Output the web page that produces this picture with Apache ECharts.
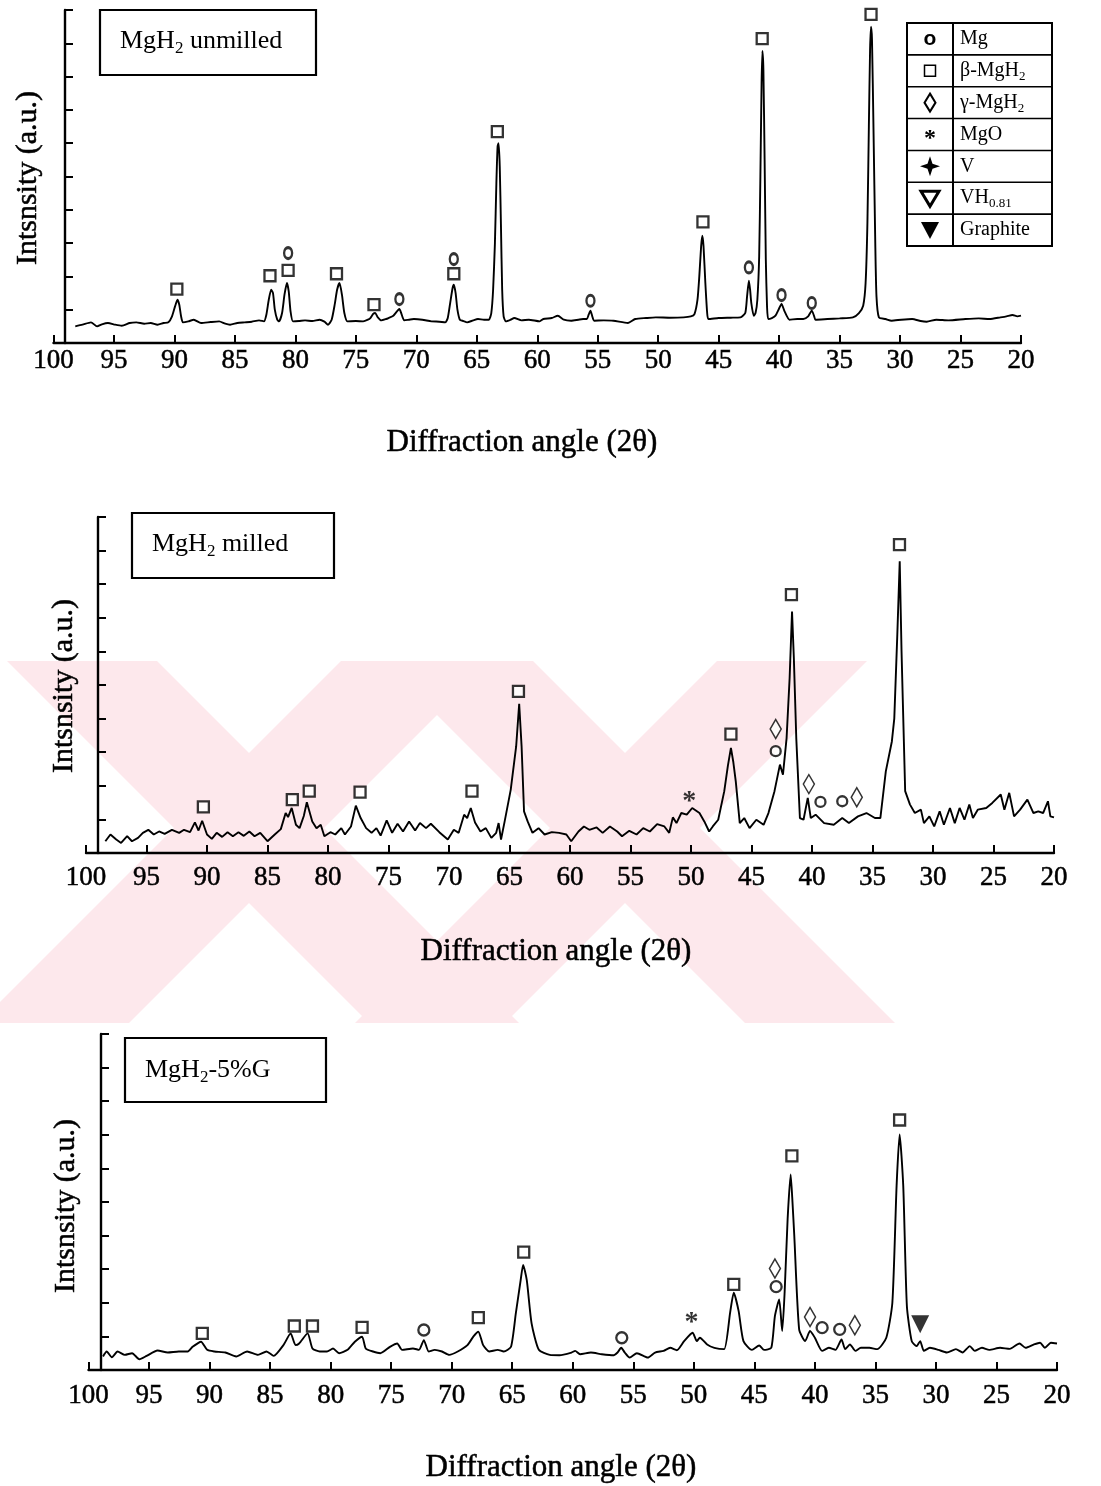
<!DOCTYPE html>
<html>
<head>
<meta charset="utf-8">
<title>XRD patterns of MgH2</title>
<script src="https://cdn.jsdelivr.net/npm/echarts@6/dist/echarts.min.js"></script>
<style>
html, body { margin: 0; padding: 0; background: #fff; }
#main { width: 1101px; height: 1486px; }
</style>
</head>
<body>
<div id="main"></div>
<script>
// 2-theta range of every panel (axis runs from 100 on the left to 20 on the right)
var angleMin = 20;
var angleMax = 100;
var angleStep = 5;

// ---- panel 1 : MgH2 unmilled ---- [2theta, intensity a.u.]
var unmilledCurve = [
  [98.2,0.5],[97.6,0.55],[96.9,0.62],[96.4,0.5],[96.0,0.56],[95.5,0.6],[94.9,0.55],[94.35,0.52],
  [93.7,0.6],[93.15,0.62],[92.5,0.58],[91.96,0.6],[91.4,0.55],[90.9,0.6],[90.5,0.62],[90.2,0.8],
  [89.95,1.1],[89.75,1.3],[89.6,1.15],[89.45,0.8],[89.3,0.62],[88.85,0.65],[88.4,0.7],[87.8,0.6],
  [87.0,0.63],[86.3,0.65],[85.8,0.58],[85.4,0.55],[84.8,0.6],[84.2,0.62],[83.6,0.64],[83.0,0.68],
  [82.6,0.65],[82.4,0.85],[82.2,1.3],[82.0,1.6],[81.85,1.5],[81.7,1.0],[81.5,0.7],[81.35,0.65],
  [81.1,0.9],[80.9,1.45],[80.7,1.8],[80.55,1.55],[80.4,0.95],[80.2,0.65],[79.7,0.66],[79.2,0.68],
  [78.6,0.66],[78.0,0.7],[77.6,0.64],[77.3,0.55],[77.0,0.7],[76.75,1.15],[76.55,1.6],[76.35,1.8],
  [76.15,1.45],[75.95,0.9],[75.7,0.65],[75.0,0.66],[74.4,0.65],[74.0,0.7],[73.8,0.75],[73.55,0.88],
  [73.4,0.9],[73.2,0.78],[72.9,0.68],[72.5,0.72],[72.3,0.75],[71.9,0.82],[71.6,0.95],[71.4,1.02],
  [71.25,0.9],[71.0,0.68],[70.6,0.7],[70.2,0.72],[69.5,0.7],[68.75,0.65],[68.1,0.64],[67.6,0.62],
  [67.4,0.75],[67.2,1.2],[67.0,1.65],[66.9,1.75],[66.75,1.5],[66.6,1.0],[66.4,0.7],[66.1,0.66],
  [65.8,0.62],[65.3,0.68],[64.9,0.72],[64.4,0.7],[64.0,0.7],[63.8,0.9],[63.65,1.6],[63.5,3.0],
  [63.38,4.8],[63.28,5.9],[63.2,6.0],[63.1,5.3],[63.0,3.5],[62.9,1.6],[62.78,0.8],[62.6,0.65],
  [62.2,0.7],[61.9,0.75],[61.3,0.68],[60.7,0.7],[59.8,0.65],[59.5,0.72],[58.8,0.75],[58.3,0.82],
  [57.8,0.7],[57.2,0.67],[56.6,0.7],[56.2,0.72],[55.9,0.72],[55.75,0.85],[55.6,0.97],[55.45,0.8],
  [55.3,0.67],[54.5,0.68],[53.7,0.67],[52.5,0.6],[51.9,0.72],[51.0,0.75],[50.2,0.77],[49.0,0.76],
  [47.9,0.77],[47.3,0.8],[47.0,0.87],[46.75,1.3],[46.6,2.0],[46.45,2.9],[46.35,3.22],[46.25,2.9],
  [46.1,1.8],[45.95,0.9],[45.85,0.72],[45.0,0.75],[44.0,0.76],[43.2,0.77],[42.8,0.9],[42.65,1.4],
  [42.5,1.87],[42.4,1.6],[42.3,1.2],[42.1,0.82],[41.95,0.9],[41.8,1.3],[41.65,2.6],[41.55,5.0],
  [41.45,7.8],[41.38,8.77],[41.3,8.2],[41.2,5.5],[41.1,2.5],[41.0,1.1],[40.9,0.72],[40.6,0.75],
  [40.3,0.82],[40.05,1.0],[39.8,1.17],[39.55,0.95],[39.15,0.7],[38.5,0.72],[38.0,0.72],[37.6,0.8],
  [37.3,0.97],[37.1,0.8],[37.0,0.7],[36.0,0.72],[35.0,0.74],[33.9,0.77],[33.4,0.9],[33.05,1.12],
  [32.85,1.8],[32.7,3.6],[32.58,6.5],[32.48,8.8],[32.4,9.5],[32.32,9.1],[32.2,6.5],[32.05,3.0],
  [31.95,1.4],[31.75,0.77],[31.2,0.72],[30.7,0.67],[29.9,0.7],[29.0,0.72],[28.3,0.66],[27.8,0.64],
  [27.0,0.7],[26.0,0.68],[24.6,0.72],[23.5,0.74],[22.6,0.72],[21.7,0.77],[21.2,0.8],[20.7,0.84],
  [20.3,0.8],[20.0,0.82]
];
var unmilledBeta = [[89.8,1.62],[82.1,2.02],[80.6,2.18],[76.6,2.08],[73.5,1.15],[66.9,2.08],[63.3,6.35],[46.3,3.64],[41.4,9.14],[32.4,9.87]];
var unmilledMg = [[80.6,2.7],[71.4,1.32],[66.9,2.52],[55.6,1.27],[42.5,2.27],[39.8,1.44],[37.3,1.2]];

// ---- panel 2 : MgH2 milled ----
var milledCurve = [
  [98.4,0.35],[97.98,0.55],[97.5,0.4],[97.1,0.3],[96.6,0.5],[96.2,0.35],[95.7,0.45],[95.3,0.6],
  [94.85,0.69],[94.4,0.55],[93.96,0.64],[93.5,0.57],[92.9,0.69],[92.3,0.6],[91.9,0.69],[91.4,0.62],
  [91.0,0.91],[90.7,0.67],[90.4,0.96],[90.0,0.55],[89.6,0.42],[89.2,0.6],[88.75,0.48],[88.3,0.62],
  [87.86,0.5],[87.4,0.62],[86.96,0.51],[86.5,0.64],[86.07,0.5],[85.6,0.6],[85.0,0.35],[84.4,0.55],
  [83.9,0.71],[83.5,1.19],[83.3,1.07],[83.0,1.34],[82.65,0.84],[82.35,0.74],[82.0,1.1],[81.75,1.51],
  [81.3,0.94],[80.95,0.74],[80.6,0.84],[80.3,0.5],[79.8,0.62],[79.4,0.55],[78.9,0.74],[78.6,0.55],
  [78.1,0.79],[77.7,1.41],[77.3,1.04],[76.85,0.74],[76.4,0.6],[76.0,0.74],[75.65,0.52],[75.15,0.97],
  [74.7,0.6],[74.25,0.87],[73.8,0.64],[73.3,0.94],[72.8,0.67],[72.4,0.89],[71.9,0.74],[71.5,0.87],
  [70.8,0.62],[70.1,0.4],[69.6,0.69],[69.2,0.6],[68.75,1.14],[68.5,1.04],[68.2,1.34],[67.85,0.91],
  [67.4,0.64],[66.96,0.74],[66.5,0.45],[66.1,0.6],[65.9,0.89],[65.7,0.4],[65.4,0.94],[64.9,1.88],
  [64.45,3.17],[64.2,4.44],[64.0,3.17],[63.8,1.24],[63.5,0.94],[63.1,0.6],[62.6,0.74],[62.1,0.55],
  [61.5,0.62],[60.9,0.6],[60.3,0.55],[59.9,0.35],[59.3,0.64],[58.85,0.79],[58.4,0.69],[57.8,0.76],
  [57.3,0.6],[56.7,0.79],[56.1,0.64],[55.7,0.5],[55.1,0.66],[54.5,0.55],[53.95,0.74],[53.4,0.64],
  [52.8,0.86],[52.2,0.79],[51.8,0.6],[51.5,1.06],[51.2,0.89],[50.8,1.19],[50.35,1.14],[49.9,1.34],
  [49.3,1.19],[48.9,0.94],[48.5,0.64],[48.2,0.79],[47.75,0.99],[47.25,1.84],[46.95,2.6],[46.7,3.13],
  [46.5,2.7],[46.3,2.13],[45.97,0.89],[45.6,1.04],[45.16,0.74],[44.6,0.99],[44.0,0.84],[43.6,1.19],
  [43.1,1.84],[42.65,2.63],[42.4,2.33],[42.1,3.42],[41.85,5.2],[41.65,7.19],[41.5,5.8],[41.3,3.42],
  [41.0,1.04],[40.7,0.99],[40.35,1.64],[40.1,1.04],[39.7,1.14],[39.0,0.89],[38.2,0.84],[37.5,1.04],
  [36.95,0.89],[36.2,1.09],[35.5,1.19],[34.8,1.04],[34.35,1.04],[33.9,2.43],[33.4,3.32],[33.2,4.0],
  [32.95,6.5],[32.75,8.68],[32.6,6.0],[32.5,4.6],[32.3,1.84],[31.9,1.44],[31.5,1.19],[31.0,1.29],
  [30.75,0.89],[30.3,1.09],[29.9,0.79],[29.45,1.24],[29.1,0.84],[28.6,1.34],[28.2,0.89],[27.8,1.34],
  [27.4,0.99],[27.0,1.44],[26.7,1.04],[26.3,1.29],[25.6,1.34],[25.1,1.49],[24.4,1.74],[24.1,1.29],
  [23.7,1.79],[23.3,1.09],[22.8,1.29],[22.2,1.59],[21.7,1.19],[21.3,1.24],[20.9,1.19],[20.5,1.54],
  [20.3,1.09],[20.0,1.06]
];
var milledBeta = [[90.3,1.37],[82.95,1.59],[81.55,1.84],[77.35,1.81],[68.1,1.84],[64.26,4.81],[46.7,3.54],[41.7,7.69],[32.77,9.18]];
var milledMg = [[43.0,3.03],[39.3,1.52],[37.5,1.54]];
var milledGamma = [[43.0,3.69],[40.26,2.05],[36.3,1.66]];
var milledMgO = [[50.15,1.74]];

// ---- panel 3 : MgH2-5%G ----
var graphiteCurve = [
  [98.8,0.4],[98.5,0.55],[98.07,0.38],[97.6,0.55],[97.0,0.45],[96.4,0.5],[95.8,0.32],[95.2,0.42],
  [94.3,0.58],[93.45,0.52],[92.55,0.55],[91.8,0.55],[91.4,0.69],[90.95,0.8],[90.7,0.84],[90.2,0.6],
  [89.6,0.55],[88.7,0.52],[87.8,0.4],[86.9,0.55],[86.0,0.45],[85.3,0.55],[84.7,0.42],[83.9,0.74],
  [83.3,1.09],[82.9,0.74],[82.6,0.79],[81.9,1.09],[81.5,0.64],[80.9,0.55],[80.3,0.55],[79.8,0.64],
  [79.3,0.5],[78.6,0.6],[78.0,0.84],[77.4,0.99],[77.1,0.64],[76.5,0.55],[75.9,0.5],[75.1,0.69],
  [74.5,0.79],[74.1,0.6],[73.2,0.64],[72.7,0.6],[72.3,0.89],[71.9,0.55],[71.4,0.6],[70.8,0.55],
  [70.2,0.45],[69.5,0.55],[68.7,0.74],[68.2,1.0],[67.8,1.14],[67.4,0.74],[66.9,0.55],[66.2,0.6],
  [65.7,0.55],[65.1,0.69],[64.7,1.69],[64.3,2.68],[64.1,3.13],[63.8,2.68],[63.4,1.39],[62.8,0.6],
  [61.9,0.45],[61.1,0.44],[60.1,0.52],[59.8,0.57],[59.4,0.47],[58.5,0.52],[57.6,0.47],[56.6,0.44],
  [56.3,0.52],[56.0,0.66],[55.7,0.52],[55.3,0.37],[54.7,0.5],[53.8,0.37],[53.2,0.52],[52.5,0.57],
  [51.95,0.66],[51.4,0.59],[50.8,0.86],[50.1,1.11],[49.75,0.86],[49.5,0.96],[48.9,0.76],[48.3,0.66],
  [47.5,0.62],[47.0,1.71],[46.7,2.3],[46.3,1.76],[45.9,0.86],[45.2,0.6],[44.6,0.73],[44.2,0.6],
  [43.6,0.66],[43.3,1.61],[42.95,2.1],[42.7,1.16],[42.5,2.3],[42.25,4.5],[42.0,5.82],[41.85,5.0],
  [41.7,3.99],[41.3,1.21],[40.8,0.86],[40.4,1.16],[40.0,0.96],[39.4,0.57],[38.85,0.66],[38.3,0.6],
  [37.8,0.91],[37.5,0.62],[37.1,0.76],[36.65,0.57],[36.2,0.66],[35.5,0.66],[34.85,0.62],[34.1,0.96],
  [33.6,2.0],[33.25,5.48],[33.0,7.01],[32.7,5.48],[32.4,1.9],[32.0,0.86],[31.6,0.71],[31.3,0.86],
  [31.0,0.57],[30.5,0.66],[29.8,0.6],[29.1,0.52],[28.35,0.62],[27.8,0.52],[27.2,0.71],[26.8,0.57],
  [26.2,0.66],[25.6,0.6],[24.7,0.66],[23.9,0.63],[23.1,0.79],[22.6,0.66],[21.9,0.76],[21.4,0.81],
  [21.0,0.66],[20.5,0.81],[20.0,0.79]
];
var graphiteBeta = [[90.6,1.09],[83.0,1.31],[81.5,1.31],[77.4,1.27],[67.8,1.56],[64.05,3.51],[46.7,2.55],[41.9,6.37],[33.0,7.44]];
var graphiteMg = [[72.3,1.19],[55.95,0.96],[43.2,2.48],[39.4,1.26],[37.95,1.21]];
var graphiteGamma = [[43.3,3.02],[40.4,1.58],[36.7,1.33]];
var graphiteMgO = [[50.2,1.61]];
var graphiteC = [[31.3,1.36]];

var panelTitles = ['unmilled', 'milled', '-5%G'];
var legendNames = ['Mg', 'β-MgH2', 'γ-MgH2', 'MgO', 'V', 'VH0.81', 'Graphite'];

var FONT = 'Liberation Serif';
var chart = echarts.init(document.getElementById('main'));

function xAxisFor(i, margin) {
  return {
    type: 'value', gridIndex: i, min: angleMin, max: angleMax, interval: angleStep, inverse: true,
    axisLine: { show: true, lineStyle: { color: '#000', width: 2.4 } },
    axisTick: { show: true, inside: true, length: 8, lineStyle: { color: '#000', width: 2 } },
    axisLabel: {
      show: true, margin: margin, color: '#000', fontFamily: FONT, fontSize: 27,
      textBorderColor: '#000', textBorderWidth: 0.5, showMinLabel: true, showMaxLabel: true
    },
    splitLine: { show: false }
  };
}
function yAxisFor(i, off) {
  return {
    type: 'value', gridIndex: i, min: 0, max: 10, interval: 1, offset: off,
    axisLine: { show: true, lineStyle: { color: '#000', width: 2.4 } },
    axisTick: { show: true, inside: true, length: 8, lineStyle: { color: '#000', width: 2 } },
    axisLabel: { show: false },
    splitLine: { show: false }
  };
}
function curve(data, i) {
  return {
    type: 'line', xAxisIndex: i, yAxisIndex: i, data: data, showSymbol: false, symbol: 'none',
    smooth: i === 1 ? false : 0.2, silent: true, z: 2,
    lineStyle: { color: '#000', width: 1.9 }
  };
}
function marks(data, i, symbol, size, style, extra) {
  var s = {
    type: 'scatter', xAxisIndex: i, yAxisIndex: i, data: data, symbol: symbol, symbolSize: size,
    silent: true, z: 4, itemStyle: style
  };
  for (var k in extra) s[k] = extra[k];
  return s;
}
var open = { color: '#fff', borderColor: '#000', borderWidth: 2.3 };
var openBold = { color: '#fff', borderColor: '#000', borderWidth: 2.7 };
var openThin = { color: '#fff', borderColor: '#000', borderWidth: 1.6 };
var star = function (i, data) {
  return marks(data, i, 'circle', 0, { color: 'transparent' }, {
    label: { show: true, position: 'inside', formatter: '*', color: '#000', fontFamily: FONT, fontWeight: 'bold', fontSize: 28, offset: [0, 7] }
  });
};

// faint watermark stripes behind the middle panel
var watermark = [
  [[7,661],[157,661],[519,1023],[369,1023]],
  [[341,661],[491,661],[129,1023],[-21,1023]],
  [[383,661],[533,661],[895,1023],[745,1023]],
  [[717,661],[867,661],[505,1023],[355,1023]]
];

var graphics = [];
watermark.forEach(function (p) {
  graphics.push({ type: 'polygon', z: -10, silent: true, shape: { points: p }, style: { fill: '#fde8ec' } });
});

function richTitle(x, y, suffix) {
  return {
    type: 'text', x: x, y: y, z: 10,
    style: {
      text: '{a|MgH}{s|2}{a|' + suffix + '}',
      textVerticalAlign: 'middle', verticalAlign: 'middle', textAlign: 'left', align: 'left',
      rich: {
        a: { fontFamily: FONT, fontSize: 26, lineHeight: 32, fill: '#000', color: '#000' },
        s: { fontFamily: FONT, fontSize: 17, lineHeight: 18, verticalAlign: 'bottom', fill: '#000', color: '#000' }
      }
    }
  };
}
function box(x, y, w, h) {
  return { type: 'rect', z: 10, shape: { x: x, y: y, width: w, height: h }, style: { fill: '#fff', stroke: '#000', lineWidth: 2.2 } };
}
function label(x, y, text, size, rot) {
  return {
    type: 'text', x: x, y: y, rotation: rot || 0, z: 10,
    style: {
      text: text, fontFamily: FONT, fontSize: size, fill: '#000', stroke: '#000', lineWidth: 0.5,
      textAlign: 'center', align: 'center', textVerticalAlign: 'middle', verticalAlign: 'middle'
    }
  };
}

graphics.push(box(100, 10, 216, 65), richTitle(120, 41, ' ' + panelTitles[0]));
graphics.push(box(132, 513, 202, 65), richTitle(152, 544, ' ' + panelTitles[1]));
graphics.push(box(125, 1038, 201, 64), richTitle(145, 1070, panelTitles[2]));

graphics.push(label(522, 443, 'Diffraction angle (2θ)', 31));
graphics.push(label(556, 952, 'Diffraction angle (2θ)', 31));
graphics.push(label(561, 1468, 'Diffraction angle (2θ)', 31));
graphics.push(label(28, 178, 'Intsnsity (a.u.)', 30, Math.PI / 2));
graphics.push(label(64, 686, 'Intsnsity (a.u.)', 30, Math.PI / 2));
graphics.push(label(66, 1206, 'Intsnsity (a.u.)', 30, Math.PI / 2));

// phase key table in the first panel
var tx = 907, ty = 23, tw = 145, th = 223, div = 953, rowH = th / legendNames.length;
graphics.push({ type: 'rect', z: 10, shape: { x: tx, y: ty, width: tw, height: th }, style: { fill: '#fff', stroke: '#000', lineWidth: 2 } });
graphics.push({ type: 'line', z: 11, shape: { x1: div, y1: ty, x2: div, y2: ty + th }, style: { stroke: '#000', lineWidth: 2 } });
legendNames.forEach(function (name, k) {
  var cy = ty + rowH * (k + 0.5);
  if (k > 0) graphics.push({ type: 'line', z: 11, shape: { x1: tx, y1: ty + rowH * k, x2: tx + tw, y2: ty + rowH * k }, style: { stroke: '#000', lineWidth: 1.6 } });
  var parts = name.match(/^(.*?H)(2|0\.81)$/);
  var txt = parts ? '{a|' + parts[1] + '}{s|' + parts[2] + '}' : '{a|' + name + '}';
  graphics.push({
    type: 'text', x: 960, y: cy, z: 12,
    style: {
      text: txt, textVerticalAlign: 'middle', verticalAlign: 'middle', textAlign: 'left', align: 'left',
      rich: {
        a: { fontFamily: FONT, fontSize: 20, lineHeight: 24, fill: '#000', color: '#000' },
        s: { fontFamily: FONT, fontSize: 13, lineHeight: 14, verticalAlign: 'bottom', fill: '#000', color: '#000' }
      }
    }
  });
});
var sx = 930;
function rowY(k) { return ty + rowH * (k + 0.5); }
graphics.push({ type: 'text', x: sx, y: rowY(0), z: 12, style: { text: 'o', fontFamily: 'Liberation Sans', fontWeight: 'bold', fontSize: 21, fill: '#000', textAlign: 'center', align: 'center', textVerticalAlign: 'middle', verticalAlign: 'middle' } });
graphics.push({ type: 'rect', z: 12, shape: { x: sx - 5.5, y: rowY(1) - 5.5, width: 11, height: 11 }, style: { fill: '#fff', stroke: '#000', lineWidth: 1.5 } });
graphics.push({ type: 'polygon', z: 12, shape: { points: [[sx, rowY(2) - 9], [sx + 5.5, rowY(2)], [sx, rowY(2) + 9], [sx - 5.5, rowY(2)]] }, style: { fill: '#fff', stroke: '#000', lineWidth: 2 } });
graphics.push({ type: 'text', x: sx, y: rowY(3) + 4, z: 12, style: { text: '*', fontFamily: FONT, fontWeight: 'bold', fontSize: 24, fill: '#000', textAlign: 'center', align: 'center', textVerticalAlign: 'middle', verticalAlign: 'middle' } });
var c4 = rowY(4);
graphics.push({ type: 'polygon', z: 12, shape: { points: [[sx, c4 - 10], [sx + 2.5, c4 - 2.5], [sx + 10, c4], [sx + 2.5, c4 + 2.5], [sx, c4 + 10], [sx - 2.5, c4 + 2.5], [sx - 10, c4], [sx - 2.5, c4 - 2.5]] }, style: { fill: '#000' } });
var c5 = rowY(5);
graphics.push({ type: 'polygon', z: 12, shape: { points: [[sx - 9, c5 - 7], [sx + 9, c5 - 7], [sx, c5 + 8]] }, style: { fill: '#fff', stroke: '#000', lineWidth: 3 } });
var c6 = rowY(6);
graphics.push({ type: 'polygon', z: 12, shape: { points: [[sx - 9, c6 - 8], [sx + 9, c6 - 8], [sx, c6 + 9]] }, style: { fill: '#000' } });

var option = {
  backgroundColor: '#fff',
  animation: false,
  grid: [
    { left: 53.5, top: 10, width: 967.5, height: 333, outerBoundsMode: 'none' },
    { left: 86, top: 517, width: 968, height: 336, outerBoundsMode: 'none' },
    { left: 88.5, top: 1034, width: 968.5, height: 336, outerBoundsMode: 'none' }
  ],
  xAxis: [xAxisFor(0, 4), xAxisFor(1, 11), xAxisFor(2, 12)],
  yAxis: [yAxisFor(0, -11.5), yAxisFor(1, -12), yAxisFor(2, -12.5)],
  series: [
    curve(unmilledCurve, 0),
    marks(unmilledBeta, 0, 'rect', [11, 11], open),
    marks(unmilledMg, 0, 'circle', [8, 11], openBold),

    curve(milledCurve, 1),
    marks(milledBeta, 1, 'rect', [11, 11], open),
    marks(milledMg, 1, 'circle', [10, 10], open),
    marks(milledGamma, 1, 'diamond', [11, 19], openThin),
    star(1, milledMgO),

    curve(graphiteCurve, 2),
    marks(graphiteBeta, 2, 'rect', [11, 11], open),
    marks(graphiteMg, 2, 'circle', [11, 11], open),
    marks(graphiteGamma, 2, 'diamond', [11, 19], openThin),
    star(2, graphiteMgO),
    marks(graphiteC, 2, 'triangle', [18, 18], { color: '#000' }, { symbolRotate: 180 })
  ],
  graphic: { elements: graphics }
};
chart.setOption(option);
</script>
</body>
</html>
